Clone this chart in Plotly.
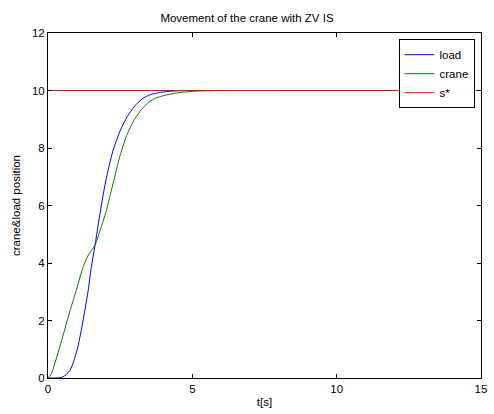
import plotly.graph_objects as go

t = [0, 0.1, 0.25, 0.5, 0.75, 1.0, 1.15, 1.25, 1.4, 1.5, 1.63, 1.75, 2.0, 2.25, 2.5, 2.75,
     3.0, 3.25, 3.5, 3.75, 4.0, 4.5, 5.0, 5.5, 6.0, 8.0, 10.0, 12.0, 15.0]
load = [0, 0.0, 0.0, 0.03, 0.25, 0.95, 1.65, 2.2, 3.1, 3.85, 4.62, 5.4, 6.85, 7.9, 8.6, 9.1,
        9.45, 9.7, 9.84, 9.91, 9.95, 9.99, 10.0, 10.0, 10.0, 10.0, 10.0, 10.0, 10.0]
crane = [0, 0.12, 0.55, 1.4, 2.3, 3.12, 3.65, 3.95, 4.28, 4.43, 4.62, 4.97, 5.75, 6.75, 7.75, 8.5,
         9.0, 9.35, 9.6, 9.74, 9.82, 9.92, 9.97, 9.99, 10.0, 10.0, 10.0, 10.0, 10.0]
s_t = [0, 15]
s_star = [10, 10]

title = "Movement of the crane with ZV IS"
x_label = "t[s]"
y_label = "crane&load position"
x_ticks = [0, 5, 10, 15]
y_ticks = [0, 2, 4, 6, 8, 10, 12]

fig = go.Figure()
fig.add_trace(go.Scatter(x=t, y=load, mode="lines", name="load",
                         line=dict(color="rgb(0,0,255)", width=1, shape="spline", smoothing=0.8)))
fig.add_trace(go.Scatter(x=t, y=crane, mode="lines", name="crane",
                         line=dict(color="rgb(0,128,0)", width=1, shape="spline", smoothing=0.8)))
fig.add_trace(go.Scatter(x=s_t, y=s_star, mode="lines", name="s*",
                         line=dict(color="rgb(255,0,0)", width=1)))

font = "Liberation Sans, Arial, sans-serif"
axis_common = dict(showline=True, linecolor="black", linewidth=1, mirror="ticks",
                   ticks="inside", ticklen=4, tickcolor="black", showgrid=False,
                   zeroline=False, tickfont=dict(family=font, size=11.5, color="black"))

fig.update_layout(
    width=494, height=414,
    margin=dict(l=48, r=7, t=33, b=34),
    paper_bgcolor="white", plot_bgcolor="white",
    title=dict(text=title, x=0.5, xanchor="center", y=1 - 18 / 414, yanchor="middle",
               font=dict(family=font, size=11.5, color="black")),
    xaxis=dict(range=[0, 15], tickvals=x_ticks, **axis_common,
               title=dict(text=x_label, standoff=4, font=dict(family=font, size=11.5, color="black"))),
    yaxis=dict(range=[0, 12], tickvals=y_ticks, **axis_common,
               title=dict(text=y_label, standoff=8, font=dict(family=font, size=11.5, color="black"))),
    legend=dict(x=0.985, y=0.982, xanchor="right", yanchor="top",
                bordercolor="black", borderwidth=1, bgcolor="white",
                font=dict(family=font, size=11.5, color="black"),
                tracegroupgap=0, itemwidth=30),
    showlegend=True,
)

fig.write_html("out.html", config={"displayModeBar": False},
               post_script="document.body.style.margin='0';document.body.style.overflow='hidden';")
